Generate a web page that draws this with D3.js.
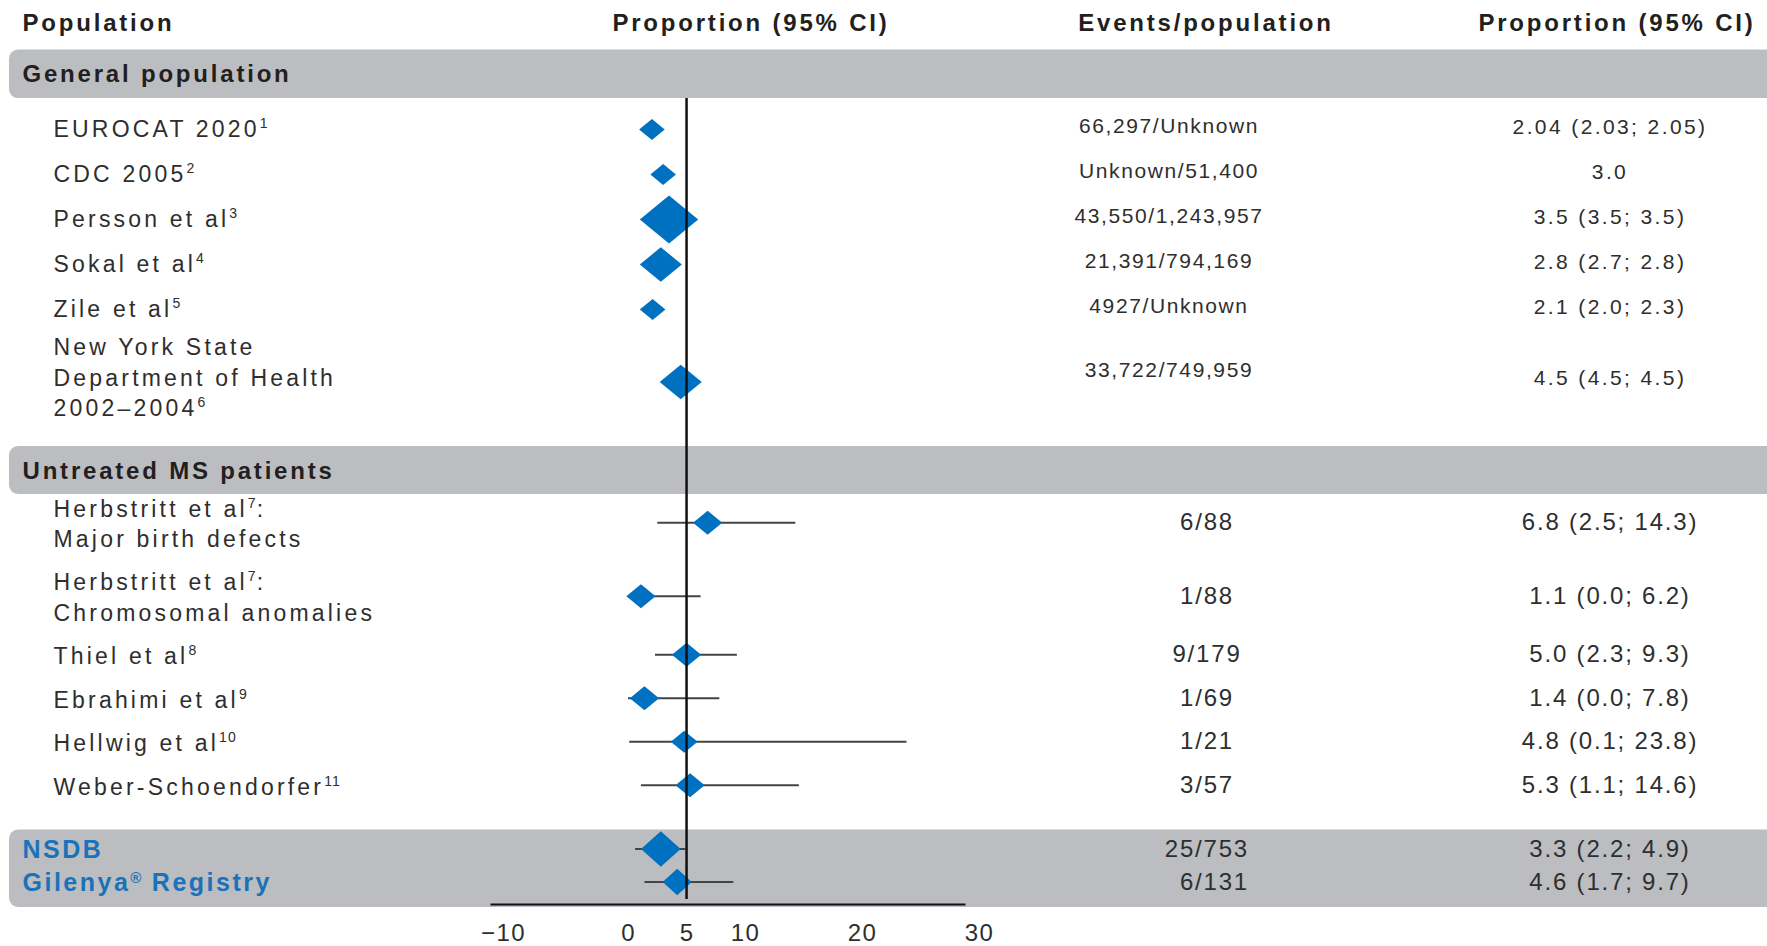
<!DOCTYPE html>
<html>
<head>
<meta charset="utf-8">
<script src="https://cdn.jsdelivr.net/npm/d3@7"></script>
<style>
  body { margin: 0; background: #fff; }
  svg { display: block; font-family: "Liberation Sans", Arial, Helvetica, sans-serif; }
</style>
</head>
<body>
<div id="chart"></div>
<script>
// table rows, top to bottom. "|" splits lines, {n} is a superscript
var studyLabels = [
  "EUROCAT 2020{1}",
  "CDC 2005{2}",
  "Persson et al{3}",
  "Sokal et al{4}",
  "Zile et al{5}",
  "New York State|Department of Health|2002–2004{6}",
  "Herbstritt et al{7}:|Major birth defects",
  "Herbstritt et al{7}:|Chromosomal anomalies",
  "Thiel et al{8}",
  "Ebrahimi et al{9}",
  "Hellwig et al{10}",
  "Weber-Schoendorfer{11}",
  "NSDB",
  "Gilenya{®} Registry"
];
var studyGroup = ["general", "general", "general", "general", "general", "general",
  "ms", "ms", "ms", "ms", "ms", "ms", "registry", "registry"];
var eventsText = ["66,297/Unknown", "Unknown/51,400", "43,550/1,243,957", "21,391/794,169",
  "4927/Unknown", "33,722/749,959", "6/88", "1/88", "9/179", "1/69", "1/21", "3/57",
  "25/753", "6/131"];
var proportionText = ["2.04 (2.03; 2.05)", "3.0", "3.5 (3.5; 3.5)", "2.8 (2.7; 2.8)",
  "2.1 (2.0; 2.3)", "4.5 (4.5; 4.5)", "6.8 (2.5; 14.3)", "1.1 (0.0; 6.2)", "5.0 (2.3; 9.3)",
  "1.4 (0.0; 7.8)", "4.8 (0.1; 23.8)", "5.3 (1.1; 14.6)", "3.3 (2.2; 4.9)", "4.6 (1.7; 9.7)"];
// plotted point estimates and CI ends (as drawn)
var estimate = [2.04, 3.0, 3.5, 2.8, 2.1, 4.5, 6.8, 1.1, 5.0, 1.4, 4.8, 5.3, 2.8, 4.2];
var ciLower = [2.03, 3.0, 3.5, 2.7, 2.0, 4.5, 2.5, 0.0, 2.3, 0.0, 0.1, 1.1, 0.6, 1.4];
var ciUpper = [2.05, 3.0, 3.5, 2.8, 2.3, 4.5, 14.3, 6.2, 9.3, 7.8, 23.8, 14.6, 4.9, 9.0];
// relative marker weight (diamond area)
var studyWeight = [1, 1, 5.2, 2.7, 1, 2.7, 1.3, 1.3, 1.3, 1.3, 1.1, 1.3, 2.4, 1.3];

var groupTitles = ["General population", "Untreated MS patients"];
var headers = ["Population", "Proportion (95% CI)", "Events/population", "Proportion (95% CI)"];
var xTicks = [-10, 0, 5, 10, 20, 30];
var refValue = 5;

var svgWidth = 1767;
var svgHeight = 946;

var ink = "#231f20";
var bandGrey = "#bcbdc0";
var blue = "#0070c0";

var svg = d3.select("#chart")
  .append("svg")
  .attr("width", svgWidth)
  .attr("height", svgHeight);

// x scale for the forest plot
var xScale = d3.scaleLinear()
  .domain([-11.8, 28.8])
  .range([490, 965]);

var sizeScale = d3.scaleSqrt()
  .domain([0, 1])
  .range([0, 12.8]);

// row layout per section (extra = added height per extra label line)
var sectionLayout = {
  general: { top: 107, unit: 45, extra: 0.61 },
  ms: { top: 486, unit: 43.5, extra: 0.69 },
  registry: { top: 832.5, unit: 33, extra: 0 }
};
var lineHeight = 30.5;

var rows = studyLabels.map(function(label, i) {
  return {
    lines: label.split("|"),
    group: studyGroup[i],
    events: eventsText[i],
    prop: proportionText[i],
    est: estimate[i],
    lo: ciLower[i],
    hi: ciUpper[i],
    weight: studyWeight[i]
  };
});

var cursor = {};
rows.forEach(function(r) {
  var lay = sectionLayout[r.group];
  var h = 1 + (r.lines.length - 1) * lay.extra;
  var c = cursor[r.group] || 0;
  r.y = lay.top + (c + h / 2) * lay.unit;
  cursor[r.group] = c + h;
});

// grey bands
var bands = [
  { y: 49.6, h: 48.5, title: groupTitles[0] },
  { y: 446, h: 48, title: groupTitles[1] },
  { y: 829.5, h: 77.5, title: null }
];

svg.selectAll("rect.band")
  .data(bands)
  .enter()
  .append("rect")
  .attr("class", "band")
  .attr("x", 9)
  .attr("y", d => d.y)
  .attr("width", svgWidth + 20)
  .attr("height", d => d.h)
  .attr("rx", 9)
  .attr("fill", bandGrey);

svg.selectAll("text.bandTitle")
  .data(bands.filter(d => d.title))
  .enter()
  .append("text")
  .attr("class", "bandTitle")
  .attr("x", 22.5)
  .attr("y", d => d.y + d.h / 2)
  .attr("dy", "0.36em")
  .attr("font-size", 24)
  .attr("font-weight", "bold")
  .attr("letter-spacing", 2.8)
  .attr("fill", ink)
  .text(d => d.title);

// column headers
var headerPos = [
  { x: 22.5, anchor: "start" },
  { x: 751, anchor: "middle" },
  { x: 1206, anchor: "middle" },
  { x: 1617, anchor: "middle" }
];
svg.selectAll("text.header")
  .data(headers)
  .enter()
  .append("text")
  .attr("class", "header")
  .attr("x", (d, i) => headerPos[i].x)
  .attr("y", 22.5)
  .attr("dy", "0.36em")
  .attr("text-anchor", (d, i) => headerPos[i].anchor)
  .attr("font-size", 24)
  .attr("font-weight", "bold")
  .attr("letter-spacing", 2.8)
  .attr("fill", ink)
  .text(d => d);

// write a line with {n} superscripts as tspans
function writeLine(sel, str, supSize, supRise) {
  var parts = str.split(/\{([^}]+)\}/);
  var raised = false;
  parts.forEach(function(p, k) {
    if (p === "") return;
    var isSup = k % 2 === 1;
    var t = sel.append("tspan").text(p);
    if (isSup) {
      t.attr("font-size", supSize).attr("dy", -supRise).attr("letter-spacing", 1);
      raised = true;
    } else if (raised) {
      t.attr("dy", supRise);
      raised = false;
    }
  });
}

// study labels
rows.forEach(function(r) {
  var isReg = r.group === "registry";
  var shift = r.group === "general" ? -1 - 1.8 * (r.lines.length - 1) : (isReg ? 0 : 1);
  r.lines.forEach(function(line, j) {
    var t = svg.append("text")
      .attr("x", isReg ? 22.5 : 53.5)
      .attr("y", r.y - (r.lines.length - 1) * lineHeight / 2 + j * lineHeight + shift)
      .attr("dy", "0.36em")
      .attr("font-size", isReg ? 25 : 23)
      .attr("font-weight", isReg ? "bold" : null)
      .attr("letter-spacing", isReg ? 2.5 : 3.2)
      .attr("fill", isReg ? "#1a72ba" : "#2e2e2e");
    writeLine(t, line, isReg ? 15 : 14, isReg ? 8 : 9);
  });
});

// events and proportion columns
var eventsX = { general: 1169, ms: 1207, registry: 1249 };
svg.selectAll("text.events")
  .data(rows)
  .enter()
  .append("text")
  .attr("class", "events")
  .attr("x", d => eventsX[d.group])
  .attr("y", d => d.group === "general" ? d.y - 4 - 4.5 * (d.lines.length - 1) : d.y - 1)
  .attr("dy", "0.36em")
  .attr("text-anchor", d => d.group === "registry" ? "end" : "middle")
  .attr("font-size", d => d.group === "general" ? 21 : 24)
  .attr("letter-spacing", d => d.group === "general" ? 1.6 : 1.8)
  .attr("fill", "#2e2e2e")
  .text(d => d.events);

svg.selectAll("text.prop")
  .data(rows)
  .enter()
  .append("text")
  .attr("class", "prop")
  .attr("x", 1610)
  .attr("y", d => d.group === "general" ? d.y - 3 - (d.lines.length - 1) : d.y - 1)
  .attr("dy", "0.36em")
  .attr("text-anchor", "middle")
  .attr("font-size", d => d.group === "general" ? 21 : 24)
  .attr("letter-spacing", d => d.group === "general" ? 2.4 : 1.8)
  .attr("fill", "#2e2e2e")
  .text(d => d.prop);

// confidence intervals
svg.selectAll("line.ci")
  .data(rows)
  .enter()
  .append("line")
  .attr("class", "ci")
  .attr("x1", d => xScale(d.lo))
  .attr("x2", d => xScale(d.hi))
  .attr("y1", d => d.y)
  .attr("y2", d => d.y)
  .attr("stroke", "#444")
  .attr("stroke-width", 2);

// diamonds
svg.selectAll("path.marker")
  .data(rows)
  .enter()
  .append("path")
  .attr("class", "marker")
  .attr("fill", blue)
  .attr("d", function(d) {
    var cx = xScale(d.est);
    var hw = sizeScale(d.weight);
    var hh = hw * (d.group === "registry" ? 0.9 : 0.82);
    return "M" + (cx - hw) + "," + d.y + "L" + cx + "," + (d.y - hh) +
      "L" + (cx + hw) + "," + d.y + "L" + cx + "," + (d.y + hh) + "Z";
  });

// reference line
svg.append("line")
  .attr("x1", xScale(refValue))
  .attr("x2", xScale(refValue))
  .attr("y1", 98)
  .attr("y2", 899)
  .attr("stroke", "#111")
  .attr("stroke-width", 2.5);

// x axis
var bottomAxis = d3.axisBottom(xScale)
  .tickValues(xTicks)
  .tickSize(0)
  .tickSizeOuter(0)
  .tickPadding(20);

var xAxis = svg.append("g")
  .attr("transform", "translate(0, 904)")
  .call(bottomAxis);

xAxis.select(".domain")
  .attr("stroke", "#111")
  .attr("stroke-width", 2);

// minus sign hangs left of the digits
xAxis.selectAll("text")
  .attr("font-family", "'Liberation Sans', Arial, sans-serif")
  .attr("font-size", 24)
  .attr("letter-spacing", 1.5)
  .attr("fill", "#2e2e2e")
  .attr("dx", d => d < 0 ? -8 : 0);
</script>
</body>
</html>
